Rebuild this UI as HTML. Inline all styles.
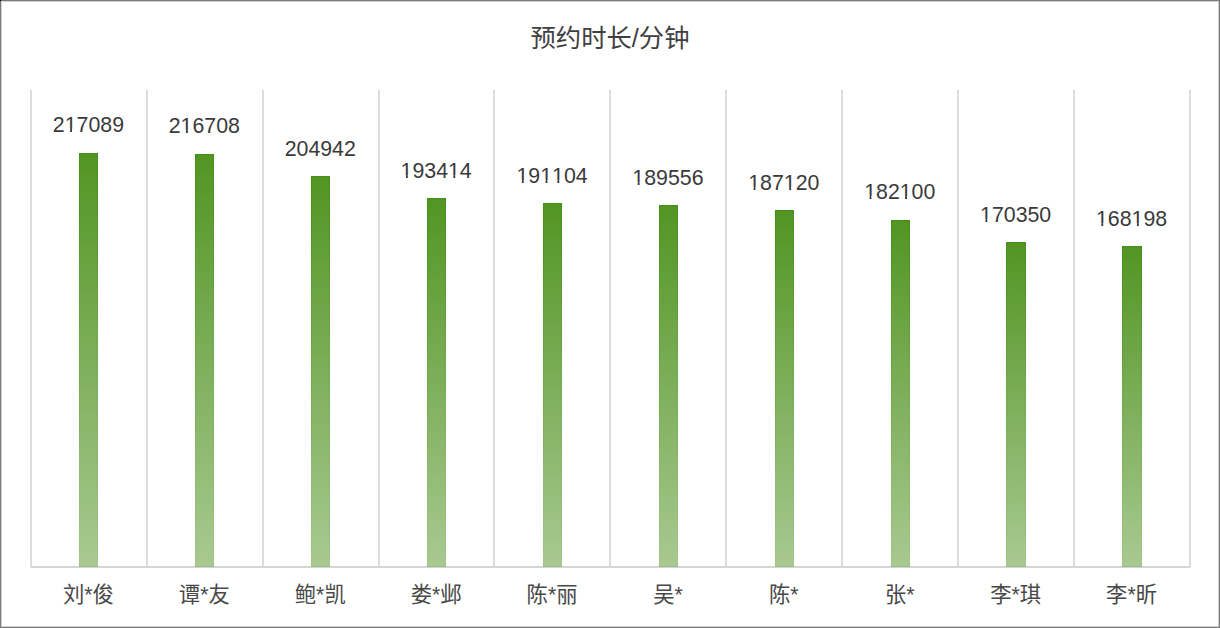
<!DOCTYPE html>
<html lang="zh-CN">
<head>
<meta charset="utf-8">
<title>预约时长/分钟</title>
<style>
html,body{margin:0;padding:0;background:#fff;}
body{width:1220px;height:628px;overflow:hidden;position:relative;font-family:"Liberation Sans",sans-serif;}
#chart{position:absolute;left:0;top:0;width:1220px;height:628px;box-sizing:border-box;}
svg{position:absolute;left:0;top:0;display:block;}
.num text{font-kerning:none;font-feature-settings:"kern" 0;font-family:"Liberation Sans",sans-serif;font-size:21.33px;fill:#3a3a3a;text-anchor:middle;}
#title text{font-family:"Liberation Sans","Noto Sans CJK SC",sans-serif;font-size:25.33px;fill:#404040;text-anchor:middle;}
#labels text{font-family:"Liberation Sans","Noto Sans CJK SC",sans-serif;font-size:21.33px;fill:#484848;text-anchor:middle;}
.t{position:absolute;color:transparent;white-space:nowrap;line-height:1;font-family:"Liberation Sans",sans-serif;overflow:hidden;text-align:center;}
</style>
</head>
<body>
<div id="chart">
<svg width="1220" height="628" viewBox="0 0 1220 628">
<defs>
<linearGradient id="bg" x1="0" y1="0" x2="0" y2="1"><stop offset="0" stop-color="rgb(82, 149, 35)"/><stop offset="1" stop-color="rgb(168, 201, 145)"/></linearGradient>
<linearGradient id="bs" x1="0" y1="0" x2="0" y2="1"><stop offset="0" stop-color="rgb(68,143,21)"/><stop offset="1" stop-color="rgb(162,198,138)"/></linearGradient>
</defs>
<rect x="0" y="0" width="1220" height="628" fill="#fff"/>
<g id="grid">
<rect x="30" y="90" width="2" height="477" fill="#dcdcdc"/>
<rect x="146" y="90" width="2" height="477" fill="#dcdcdc"/>
<rect x="262" y="90" width="2" height="477" fill="#dcdcdc"/>
<rect x="378" y="90" width="2" height="477" fill="#dcdcdc"/>
<rect x="493" y="90" width="2" height="477" fill="#dcdcdc"/>
<rect x="609" y="90" width="2" height="477" fill="#dcdcdc"/>
<rect x="725" y="90" width="2" height="477" fill="#dcdcdc"/>
<rect x="841" y="90" width="2" height="477" fill="#dcdcdc"/>
<rect x="957" y="90" width="2" height="477" fill="#dcdcdc"/>
<rect x="1073" y="90" width="2" height="477" fill="#dcdcdc"/>
<rect x="1189" y="90" width="2" height="477" fill="#dcdcdc"/>
<rect x="31" y="566" width="1159" height="2" fill="#d5d5d5"/>
</g>
<g id="bars">
<rect x="79.5" y="153.5" width="18" height="413" fill="url(#bg)" stroke="url(#bs)" stroke-width="1"/>
<rect x="79" y="566" width="19" height="1" fill="#7a8a7a" fill-opacity="0.22"/>
<rect x="195.5" y="154.5" width="18" height="412" fill="url(#bg)" stroke="url(#bs)" stroke-width="1"/>
<rect x="195" y="566" width="19" height="1" fill="#7a8a7a" fill-opacity="0.22"/>
<rect x="311.5" y="176.5" width="18" height="390" fill="url(#bg)" stroke="url(#bs)" stroke-width="1"/>
<rect x="311" y="566" width="19" height="1" fill="#7a8a7a" fill-opacity="0.22"/>
<rect x="427.5" y="198.5" width="18" height="368" fill="url(#bg)" stroke="url(#bs)" stroke-width="1"/>
<rect x="427" y="566" width="19" height="1" fill="#7a8a7a" fill-opacity="0.22"/>
<rect x="543.5" y="203.5" width="18" height="363" fill="url(#bg)" stroke="url(#bs)" stroke-width="1"/>
<rect x="543" y="566" width="19" height="1" fill="#7a8a7a" fill-opacity="0.22"/>
<rect x="659.5" y="205.5" width="18" height="361" fill="url(#bg)" stroke="url(#bs)" stroke-width="1"/>
<rect x="659" y="566" width="19" height="1" fill="#7a8a7a" fill-opacity="0.22"/>
<rect x="775.5" y="210.5" width="18" height="356" fill="url(#bg)" stroke="url(#bs)" stroke-width="1"/>
<rect x="775" y="566" width="19" height="1" fill="#7a8a7a" fill-opacity="0.22"/>
<rect x="891.5" y="220.5" width="18" height="346" fill="url(#bg)" stroke="url(#bs)" stroke-width="1"/>
<rect x="891" y="566" width="19" height="1" fill="#7a8a7a" fill-opacity="0.22"/>
<rect x="1006.5" y="242.5" width="19" height="324" fill="url(#bg)" stroke="url(#bs)" stroke-width="1"/>
<rect x="1006" y="566" width="20" height="1" fill="#7a8a7a" fill-opacity="0.22"/>
<rect x="1122.5" y="246.5" width="19" height="320" fill="url(#bg)" stroke="url(#bs)" stroke-width="1"/>
<rect x="1122" y="566" width="20" height="1" fill="#7a8a7a" fill-opacity="0.22"/>
</g>
<g class="num">
<text x="88.45" y="132">217089</text>
<text x="204.35" y="133">216708</text>
<text x="320.25" y="156">204942</text>
<text x="436.15" y="178">193414</text>
<text x="552.05" y="183">191104</text>
<text x="667.95" y="185">189556</text>
<text x="783.85" y="190">187120</text>
<text x="899.75" y="199">182100</text>
<text x="1015.65" y="222">170350</text>
<text x="1131.55" y="226">168198</text>
</g>
<g id="feet" fill="#fff">
<rect x="65.35" y="129" width="4.74" height="4"/>
<rect x="71.97" y="129" width="4.87" height="4"/>
<rect x="181.25" y="130" width="4.74" height="4"/>
<rect x="187.87" y="130" width="4.87" height="4"/>
<rect x="401.19" y="175" width="4.74" height="4"/>
<rect x="407.81" y="175" width="4.87" height="4"/>
<rect x="448.64" y="175" width="4.74" height="4"/>
<rect x="455.26" y="175" width="4.87" height="4"/>
<rect x="517.09" y="180" width="4.74" height="4"/>
<rect x="523.71" y="180" width="4.87" height="4"/>
<rect x="540.81" y="180" width="4.74" height="4"/>
<rect x="547.44" y="180" width="4.87" height="4"/>
<rect x="552.67" y="180" width="4.74" height="4"/>
<rect x="559.3" y="180" width="4.87" height="4"/>
<rect x="632.99" y="182" width="4.74" height="4"/>
<rect x="639.61" y="182" width="4.87" height="4"/>
<rect x="748.89" y="187" width="4.74" height="4"/>
<rect x="755.51" y="187" width="4.87" height="4"/>
<rect x="784.47" y="187" width="4.74" height="4"/>
<rect x="791.1" y="187" width="4.87" height="4"/>
<rect x="864.79" y="196" width="4.74" height="4"/>
<rect x="871.41" y="196" width="4.87" height="4"/>
<rect x="900.37" y="196" width="4.74" height="4"/>
<rect x="907" y="196" width="4.87" height="4"/>
<rect x="980.69" y="219" width="4.74" height="4"/>
<rect x="987.31" y="219" width="4.87" height="4"/>
<rect x="1096.59" y="223" width="4.74" height="4"/>
<rect x="1103.21" y="223" width="4.87" height="4"/>
<rect x="1132.17" y="223" width="4.74" height="4"/>
<rect x="1138.8" y="223" width="4.87" height="4"/>
</g>
<g id="title">
<text x="610" y="46.72">预约时长/分钟</text>
</g>
<g id="labels">
<text x="88.45" y="601.66">刘*俊</text>
<text x="204.35" y="601.66">谭*友</text>
<text x="320.25" y="601.66">鲍*凯</text>
<text x="436.15" y="601.66">娄*邺</text>
<text x="552.05" y="601.66">陈*丽</text>
<text x="667.95" y="601.66">吴*</text>
<text x="783.85" y="601.66">陈*</text>
<text x="899.75" y="601.66">张*</text>
<text x="1015.65" y="601.66">李*琪</text>
<text x="1131.55" y="601.66">李*昕</text>
</g>
<g id="frame">
<rect x="0.5" y="0.5" width="1219" height="627" fill="none" stroke="#7a7a7a" stroke-width="1"/>
<rect x="1.5" y="1.5" width="1217" height="625" fill="none" stroke="#d0d0d0" stroke-width="1"/>
<rect x="0" y="0" width="1" height="1" fill="#000"/>
</g>
</svg>
<span class="t" style="left:62.34px;top:582.4px;width:51.62px;font-size:21.33px">刘*俊</span>
<span class="t" style="left:178.24px;top:582.4px;width:51.62px;font-size:21.33px">谭*友</span>
<span class="t" style="left:294.14px;top:582.4px;width:51.62px;font-size:21.33px">鲍*凯</span>
<span class="t" style="left:410.04px;top:582.4px;width:51.62px;font-size:21.33px">娄*邺</span>
<span class="t" style="left:525.94px;top:582.4px;width:51.62px;font-size:21.33px">陈*丽</span>
<span class="t" style="left:652.51px;top:582.4px;width:30.29px;font-size:21.33px">吴*</span>
<span class="t" style="left:768.41px;top:582.4px;width:30.29px;font-size:21.33px">陈*</span>
<span class="t" style="left:884.31px;top:582.4px;width:30.29px;font-size:21.33px">张*</span>
<span class="t" style="left:989.54px;top:582.4px;width:51.62px;font-size:21.33px">李*琪</span>
<span class="t" style="left:1105.44px;top:582.4px;width:51.62px;font-size:21.33px">李*昕</span>
<span class="t" style="left:530.46px;top:23.1px;width:159.07px;font-size:25.33px">预约时长/分钟</span>
</div>
</body>
</html>
